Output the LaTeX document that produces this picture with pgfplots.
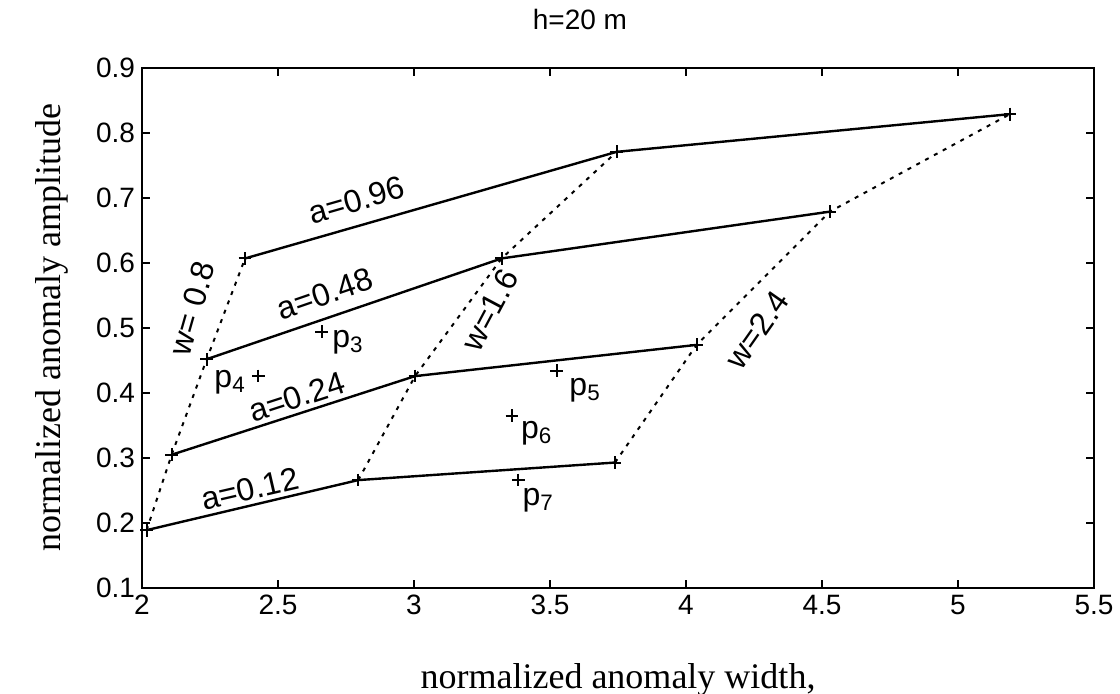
\documentclass[border=0pt]{standalone}
\usepackage{fontspec}
\setmainfont{Liberation Serif}
\newfontfamily\sansf{Liberation Sans}
\usepackage{pgfplots}
\pgfplotsset{compat=1.18}
\begin{document}
\begin{tikzpicture}
\begin{axis}[
  scale only axis, width=476pt, height=260pt,
  xmin=2, xmax=5.5, ymin=0.1, ymax=0.9,
  xtick={2,2.5,...,5.5}, ytick={0.1,0.2,...,0.9},
  xticklabels={2,2.5,3,3.5,4,4.5,5,5.5},
  yticklabels={0.1,0.2,0.3,0.4,0.5,0.6,0.7,0.8,0.9},
  tick align=inside, major tick length=4pt,
  tick style={line width=0.8pt, black},
  axis line style={line width=1pt},
  tick label style={font=\sansf\fontsize{14}{16}\selectfont},
  /pgf/number format/assume math mode=true,
  xlabel={normalized anomaly width,},
  ylabel={normalized anomaly amplitude},
  label style={font=\fontsize{18}{20}\selectfont},
  xlabel style={at={(axis description cs:0.5,-0.177)},anchor=center},
  ylabel style={at={(axis description cs:-0.0945,0.5)},anchor=center},
  clip=false,
]
% solid lines of constant a
\addplot[black, line width=1.2pt, mark=+, mark size=3.2pt, mark options={line width=1pt}] coordinates {(2.017,0.189) (2.795,0.266) (3.739,0.293)};
\addplot[black, line width=1.2pt, mark=+, mark size=3.2pt, mark options={line width=1pt}] coordinates {(2.109,0.305) (3.004,0.426) (4.039,0.474)};
\addplot[black, line width=1.2pt, mark=+, mark size=3.2pt, mark options={line width=1pt}] coordinates {(2.238,0.452) (3.322,0.607) (4.529,0.679)};
\addplot[black, line width=1.2pt, mark=+, mark size=3.2pt, mark options={line width=1pt}] coordinates {(2.379,0.607) (3.745,0.771) (5.191,0.829)};
% dotted lines of constant w
\addplot[black, line width=1pt, dash pattern=on 2pt off 3pt] coordinates {(2.017,0.189) (2.109,0.305) (2.238,0.452) (2.379,0.607)};
\addplot[black, line width=1pt, dash pattern=on 2pt off 3pt] coordinates {(2.795,0.266) (3.004,0.426) (3.322,0.607) (3.745,0.771)};
\addplot[black, line width=1pt, dash pattern=on 2pt off 3pt] coordinates {(3.739,0.293) (4.039,0.474) (4.529,0.679) (5.191,0.829)};
% individual points
\addplot[only marks, black, mark=+, mark size=3.2pt, mark options={line width=1pt}] coordinates {(2.661,0.494) (2.428,0.426) (3.525,0.434) (3.36,0.365) (3.384,0.266)};
% labels
\begin{scope}[every node/.style={font=\sansf\fontsize{16}{18}\selectfont, inner sep=0pt}]
\node[rotate=16] at (axis cs:2.789,0.697) {a=0.96};
\node[rotate=19] at (axis cs:2.673,0.553) {a=0.48};
\node[rotate=18] at (axis cs:2.569,0.394) {a=0.24};
\node[rotate=13] at (axis cs:2.397,0.253) {a=0.12};
\node[rotate=74] at (axis cs:2.184,0.530) {w= 0.8};
\node[rotate=62] at (axis cs:3.279,0.528) {w=1.6};
\node[rotate=55] at (axis cs:4.261,0.497) {w=2.4};
\node at (axis cs:2.757,0.478) {p\textsubscript{3}};
\node at (axis cs:2.324,0.417) {p\textsubscript{4}};
\node at (axis cs:3.629,0.405) {p\textsubscript{5}};
\node at (axis cs:3.451,0.338) {p\textsubscript{6}};
\node at (axis cs:3.457,0.235) {p\textsubscript{7}};
\end{scope}
\node[font=\sansf\fontsize{14}{16}\selectfont, anchor=center] at ([yshift=24pt]rel axis cs:0.46,1) {h=20 m};
\coordinate (bl) at (rel axis cs:0,0);
\end{axis}
\pgfresetboundingbox
\path (bl) ++(-71pt,-53pt) rectangle ++(560pt,347pt);
\end{tikzpicture}
\end{document}
